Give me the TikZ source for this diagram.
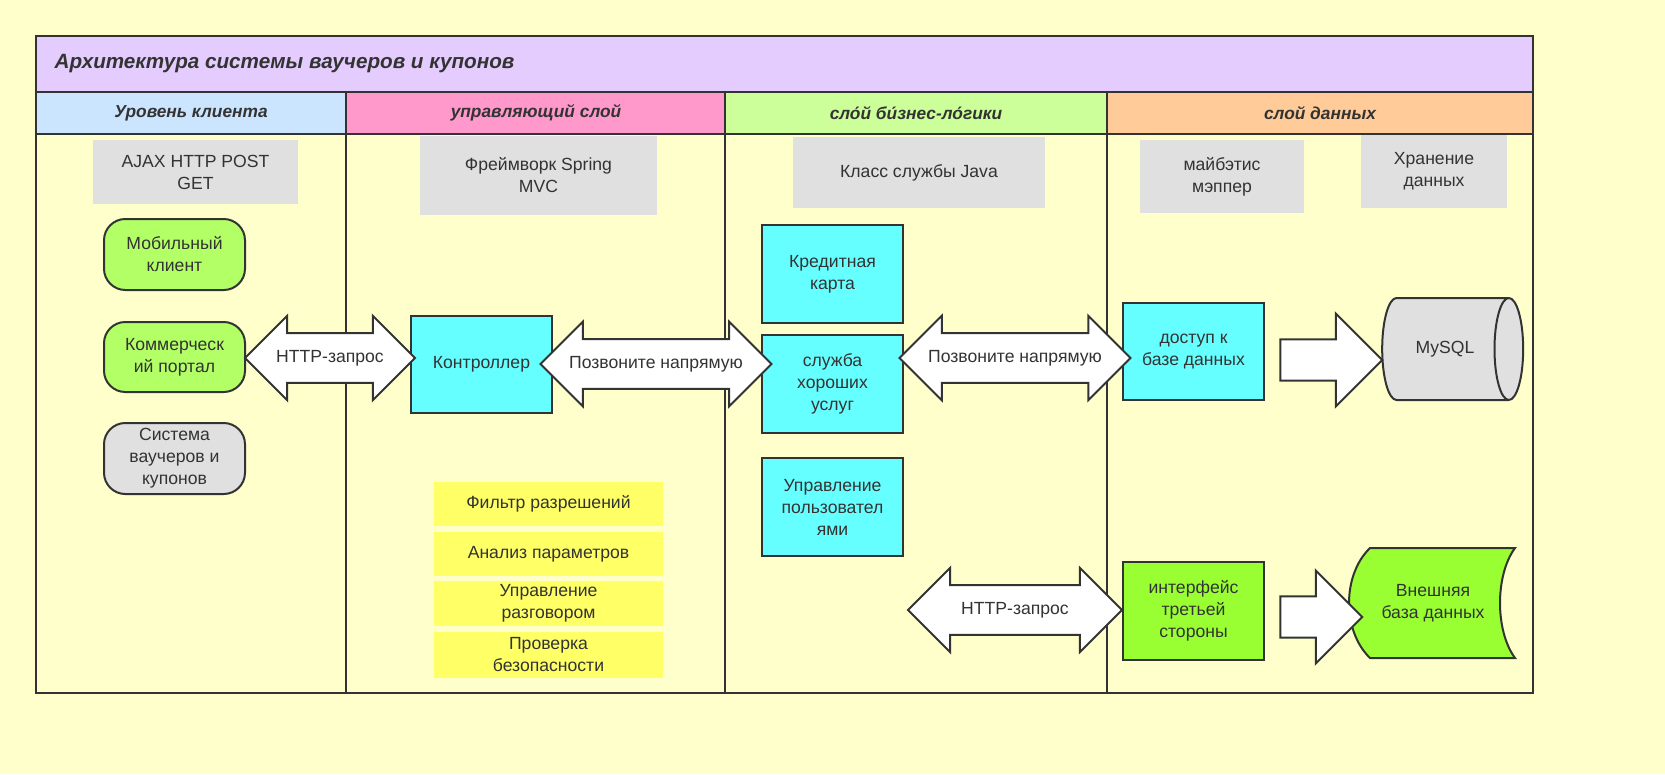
\documentclass[tikz,border=0pt]{standalone}
\usepackage{fontspec}
\setmainfont{Liberation Sans}
\usetikzlibrary{shapes.arrows,shapes.geometric}
\definecolor{bg}{HTML}{FFFFCC}
\definecolor{ttl}{HTML}{E5CCFF}
\definecolor{hblue}{HTML}{CCE5FF}
\definecolor{hpink}{HTML}{FF99CC}
\definecolor{hgreen}{HTML}{CCFF99}
\definecolor{horange}{HTML}{FFCC99}
\definecolor{gbox}{HTML}{E0E0E0}
\definecolor{cbox}{HTML}{66FFFF}
\definecolor{ybox}{HTML}{FFFF66}
\definecolor{lgreen}{HTML}{B3FF66}
\definecolor{dgreen}{HTML}{99FF33}
\definecolor{ln}{HTML}{333333}
\newcommand\bx[7]{\node[#6, minimum width={(#4-#2)*0.75pt}, minimum height={(#5-#3)*0.75pt}] (#1) at ({(#2+#4)/2},{(#3+#5)/2}) {#7};}
\begin{document}
\begin{tikzpicture}[x=0.75pt,y=-0.75pt,
  base/.style={align=center,font=\fontsize{13.2}{16.5}\selectfont,text=ln,inner sep=0pt},
  gray/.style={base,fill=gbox},
  cyan/.style={base,fill=cbox,draw=ln,line width=1.5pt},
  yel/.style={base,fill=ybox},
  pill/.style={base,draw=ln,line width=1.5pt,rounded corners=16pt},
  darrow/.style={base,shape=double arrow,draw=ln,fill=white,line width=1.5pt,double arrow head extend=13pt,inner ysep=12pt,inner xsep=2pt,minimum width=63pt},
  sarrow/.style={shape=single arrow,draw=ln,fill=white,line width=1.5pt,single arrow head extend=19.5pt,inner ysep=12pt,inner xsep=0pt,minimum width=63pt},
  hdr/.style={font=\bfseries\itshape\fontsize{13}{15}\selectfont,text=ln}]
\useasboundingbox (0,0) rectangle (1665,774);
\fill[bg] (0,0) rectangle (1665,774);
% frame
\fill[ttl] (36,36) rectangle (1533,92);
\fill[hblue] (36,92) rectangle (346,134);
\fill[hpink] (346,92) rectangle (725,134);
\fill[hgreen] (725,92) rectangle (1107,134);
\fill[horange] (1107,92) rectangle (1533,134);
\draw[ln,line width=1.5pt] (36,36) rectangle (1533,693);
\draw[ln,line width=1.5pt] (36,92) -- (1533,92) (36,134) -- (1533,134);
\foreach \x in {346,725,1107} \draw[ln,line width=1.5pt] (\x,92) -- (\x,693);
\node[anchor=west,font=\bfseries\itshape\fontsize{15.5}{18}\selectfont,text=ln] (title) at (50,64) {Архитектура системы ваучеров и купонов};
\node[hdr] (h1) at (191,113) {Уровень клиента};
\node[hdr] (h2) at (536,113) {управляющий слой};
\node[hdr] (h3) at (916,113) {сло́й би́знес-ло́гики};
\node[hdr] (h4) at (1320,113) {слой данных};
% client
\bx{ajax}{93}{140}{298}{204}{gray}{AJAX HTTP POST\\GET}
\bx{mob}{104}{219}{245}{290}{pill,fill=lgreen}{Мобильный\\клиент}
\bx{com}{104}{322}{245}{392}{pill,fill=lgreen}{Коммерческ\\ий портал}
\bx{sys}{104}{423}{245}{494}{pill,fill=gbox}{Система\\ваучеров и\\купонов}
% control
\bx{spring}{420}{136}{657}{215}{gray}{Фреймворк Spring\\MVC}
\bx{ctrl}{411}{316}{552}{413}{cyan}{Контроллер}
\bx{y1}{434}{482}{663}{526}{yel}{Фильтр разрешений}
\bx{y2}{434}{532}{663}{576}{yel}{Анализ параметров}
\bx{y3}{434}{581}{663}{626}{yel}{Управление\\разговором}
\bx{y4}{434}{632}{663}{678}{yel}{Проверка\\безопасности}
% business
\bx{java}{793}{137}{1045}{208}{gray}{Класс службы Java}
\bx{cc}{762}{225}{903}{323}{cyan}{Кредитная\\карта}
\bx{goods}{762}{335}{903}{433}{cyan}{служба\\хороших\\услуг}
\bx{users}{762}{458}{903}{556}{cyan}{Управление\\пользовател\\ями}
% data
\bx{mybatis}{1140}{140}{1304}{213}{gray}{майбэтис\\мэппер}
\bx{store}{1361}{135}{1507}{208}{gray}{Хранение\\данных}
\bx{dao}{1123}{303}{1264}{400}{cyan}{доступ к\\базе данных}
\bx{api}{1123}{562}{1264}{660}{cyan,fill=dgreen}{интерфейс\\третьей\\стороны}
\node[base,shape=cylinder,draw=ln,fill=gbox,line width=1.5pt,shape aspect=1.8,minimum width=76.5pt,minimum height=105.75pt] (mysql) at (1445,349) {MySQL};
\draw[ln,line width=1.5pt,fill=dgreen] (1370,548) -- (1515,548) .. controls (1495,575) and (1495,631) .. (1515,658) -- (1370,658) .. controls (1342,631) and (1342,575) .. (1370,548) -- cycle;
\node[base] (ext) at (1433,603) {Внешняя\\база данных};
% arrows
\node[darrow,minimum height=127.5pt] (a1) at (330,358) {HTTP-запрос};
\node[darrow,minimum height=156pt] (a2) at (656,364) {Позвоните напрямую};
\node[darrow,minimum height=160.5pt] (a3) at (1015,358) {Позвоните напрямую};
\node[darrow,minimum height=160.5pt] (a4) at (1015,610) {HTTP-запрос};
\node[sarrow,minimum height=76.5pt] (a5) at (1321,360) {\phantom{x}};
\node[sarrow,minimum height=61.5pt] (a6) at (1311,617) {\phantom{x}};
\end{tikzpicture}
\end{document}
